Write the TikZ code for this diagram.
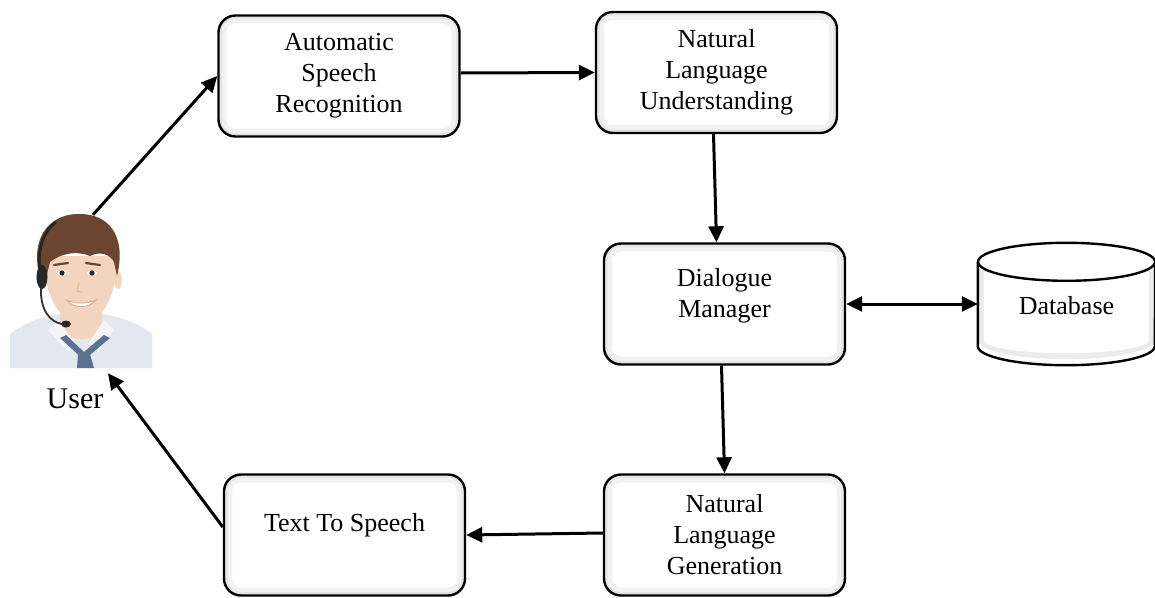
\documentclass[tikz,border=0pt]{standalone}
\usepackage{fontspec}
\setmainfont{Liberation Serif}
\usetikzlibrary{arrows.meta}
\definecolor{skin}{HTML}{F3D4BE}
\definecolor{hair}{HTML}{6A4630}
\definecolor{shirt}{HTML}{E3E7EF}
\definecolor{tie}{HTML}{5C7090}

\begin{document}
\begin{tikzpicture}[x=1pt,y=-1pt,
    glow/.style={path picture={
        \draw[black!5,line width=16pt,rounded corners=17pt] (path picture bounding box.south west) rectangle (path picture bounding box.north east);
        \draw[black!10,line width=7pt,rounded corners=17pt] (path picture bounding box.south west) rectangle (path picture bounding box.north east);}},
    box/.style={draw,line width=2.4pt,rounded corners=17pt,minimum width=241pt,minimum height=121pt,
        align=center,font=\fontsize{26}{31}\selectfont,glow},
    txt/.style={align=center,font=\fontsize{26}{31}\selectfont},
    arr/.style={line width=3pt,-{Triangle[length=16pt,width=15pt]}},
    arrs/.style={line width=3pt,{Triangle[length=16pt,width=15pt]}-{Triangle[length=16pt,width=15pt]}}]
    \useasboundingbox (0,0) rectangle (1155,597);

    \node[box] (asr) at (339,76) {Automatic\\Speech\\Recognition};
    \node[box] (nlu) at (716.5,72.5) {Natural\\Language\\Understanding};
    \node[box] (dm) at (724.5,304) {};
    \node[txt] at (724.5,296) {Dialogue\\Manager};
    \node[box] (nlg) at (724.5,535) {Natural\\Language\\Generation};
    \node[box] (tts) at (344.5,535) {};
    \node[txt] at (344.5,525) {Text To Speech};

    \node[txt,minimum width=177pt,minimum height=84pt,inner sep=0pt] (db) at (1066.5,304) {};
    \fill[black!8] ([yshift=-6pt]db.north west) -- ([yshift=6pt]db.south west)
        arc[start angle=180,end angle=360,x radius=88.5pt,y radius=19pt] -- ([yshift=-6pt]db.north east) -- cycle;
    \fill[white] ([shift={(6pt,-10pt)}]db.north west) -- ([shift={(6pt,6pt)}]db.south west)
        arc[start angle=180,end angle=360,x radius=82.5pt,y radius=13pt] -- ([shift={(-6pt,-10pt)}]db.north east) -- cycle;
    \draw[line width=2.4pt,fill=white] (db.north) ellipse[x radius=88.5pt,y radius=19pt];
    \draw[line width=2.4pt] (db.north west) -- (db.south west)
        arc[start angle=180,end angle=360,x radius=88.5pt,y radius=19pt] -- (db.north east);
    \node[txt] at ([yshift=-2pt]db) {Database};

    \node[minimum width=142pt,minimum height=153pt,inner sep=0pt] (user) at (81,291.5) {};
    \node[font=\fontsize{30}{36}\selectfont] (userlbl) at (75,399) {User};

    % the user with a headset
    \fill[shirt] (10,368) -- (10,334) .. controls (25,322) and (45,316) .. (60,314) -- (102,314)
        .. controls (120,316) and (140,324) .. (152,334) -- (152,368) -- cycle;
    \fill[skin] (60,300) -- (60,330) .. controls (70,342) and (92,342) .. (102,330) -- (102,300) -- cycle;
    \fill[white!60!shirt] (58,320) -- (76,344) -- (68,352) -- (48,330) -- cycle;
    \fill[white!60!shirt] (104,320) -- (88,344) -- (98,352) -- (114,330) -- cycle;
    \fill[tie] (60,338) -- (84,360) -- (110,338) -- (104,335) -- (84,352) -- (66,335) -- cycle;
    \fill[tie] (78,354) -- (90,354) -- (94,368) -- (77,368) -- cycle;
    \fill[skin] (44,256) .. controls (44,300) and (62,323) .. (81,323)
        .. controls (100,323) and (117,300) .. (117,256) -- cycle;
    \fill[skin] (118,280) ellipse[x radius=4pt,y radius=9pt];
    \fill[hair] (40,278) .. controls (28,232) and (55,213) .. (80,214) .. controls (108,214) and (127,235) .. (117,276)
        -- (114,262) .. controls (110,254) and (100,251) .. (90,256) .. controls (76,250) and (60,254) .. (50,262)
        -- (46,278) -- cycle;
    \draw[hair,line width=2.2pt,line cap=round] (54,265) -- (68,263) (86,263) -- (100,265);
    \fill[white] (62,273) ellipse[x radius=5pt,y radius=2.5pt] (92,273) ellipse[x radius=5pt,y radius=2.5pt];
    \fill[black!85] (62,273) circle[radius=2.6pt] (92,273) circle[radius=2.6pt];
    \draw[skin!70!brown,line width=1.2pt] (79,283) -- (77,291) -- (82,292);
    \fill[white,draw=skin!60!brown,line width=1pt] (66,300) .. controls (75,309) and (88,309) .. (96,300)
        .. controls (86,304) and (75,304) .. (66,300);
    \draw[black!85,line width=3pt] (43,284) .. controls (35,258) and (40,234) .. (56,222);
    \fill[black!85] (42,277) ellipse[x radius=5.5pt,y radius=12pt];
    \draw[black!80,line width=1.8pt] (41,288) .. controls (40,310) and (50,322) .. (62,324);
    \fill[black!85] (66,324) ellipse[x radius=5pt,y radius=3.5pt];

    \draw[arr] ([xshift=12pt]user.north) -- (asr.west);
    \draw[arr] ([yshift=3pt]asr.east) -- (nlu.west);
    \draw[arr] ([xshift=-3pt]nlu.south) -- ([xshift=-8pt]dm.north);
    \draw[arrs] (dm.east) -- (db.west);
    \draw[arr] ([xshift=-3pt]dm.south) -- (nlg.north);
    \draw[arr] ([yshift=2pt]nlg.west) -- (tts.east);
    \draw[arr] ([yshift=8pt]tts.west) -- ([shift={(27pt,-5pt)}]user.south);
\end{tikzpicture}
\end{document}
